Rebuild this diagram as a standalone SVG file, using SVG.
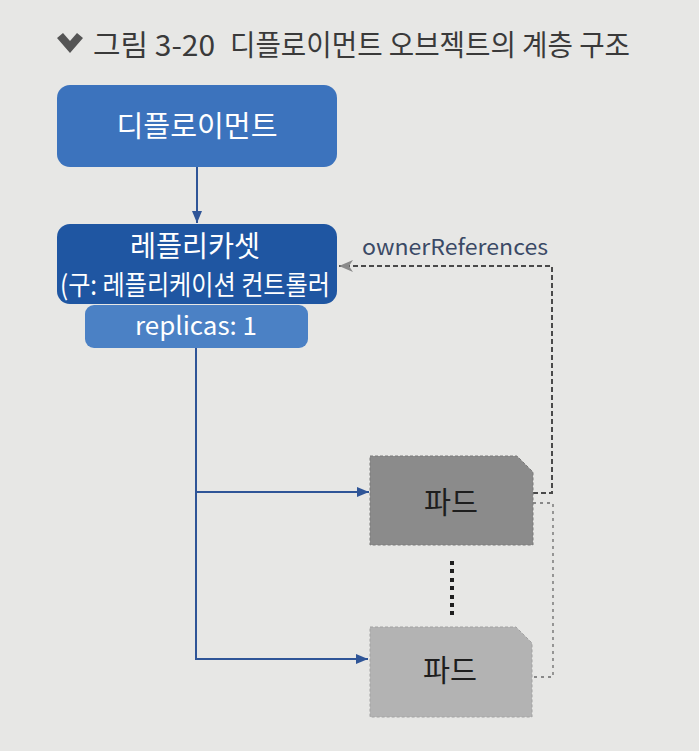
<svg xmlns="http://www.w3.org/2000/svg" width="699" height="751" viewBox="0 0 699 751">
<defs>
<style>
text{font-family:"Noto Sans CJK KR","Noto Sans",sans-serif}
.wt{fill:#ffffff;text-anchor:middle}
.pod{fill:#1e1e1e;text-anchor:middle;font-size:30px}
.conn{stroke:#2f5597;stroke-width:2;fill:none}
.ref{stroke:#4a4a4a;stroke-width:2;fill:none;stroke-dasharray:5 3}
.ref2{stroke:#6a6a6a;stroke-width:1.3;fill:none;stroke-dasharray:3 4}
</style>
<marker id="ab" viewBox="0 0 12 10" refX="12" refY="5" markerWidth="12" markerHeight="10" markerUnits="userSpaceOnUse" orient="auto">
<path d="M0,0 L12,5 L0,10 Z" fill="#2f5597"/>
</marker>
<marker id="ag" viewBox="0 0 14 12" refX="14" refY="6" markerWidth="14" markerHeight="12" markerUnits="userSpaceOnUse" orient="auto">
<path d="M0,0 L14,6 L0,12 L4,6 Z" fill="#8a8a8a"/>
</marker>
</defs>
<rect width="699" height="751" fill="#e7e7e5"/>
<g id="title">
<path d="M57,38 L63,33 L70,41 L77,33 L83,38 L70,53 Z" fill="#555555"/>
<text x="93" y="56" font-size="29" fill="#3a3a3a"><tspan x="93" textLength="122" lengthAdjust="spacingAndGlyphs">그림 3-20</tspan><tspan x="230" textLength="400" lengthAdjust="spacingAndGlyphs">디플로이먼트 오브젝트의 계층 구조</tspan></text>
</g>
<g id="connectors">
<path class="conn" d="M197,167 V223" marker-end="url(#ab)"/>
<path class="conn" d="M196,348 V659 H368" marker-end="url(#ab)"/>
<path class="conn" d="M196,492 H369" marker-end="url(#ab)"/>
<path class="ref" d="M533,493 H552 V266 H339" marker-end="url(#ag)"/>
<path class="ref2" d="M533,503 H553 V677 H533"/>
<text x="362" y="255" font-size="22" fill="#3b4a66" textLength="186" lengthAdjust="spacingAndGlyphs">ownerReferences</text>
</g>
<g id="deployment">
<rect x="57" y="85" width="280" height="82" rx="13" fill="#3c73bd"/>
<text class="wt" x="197" y="137" font-size="29" textLength="161" lengthAdjust="spacingAndGlyphs">디플로이먼트</text>
</g>
<g id="replicaset">
<rect x="57" y="224" width="280" height="80" rx="13" fill="#1f56a2"/>
<text class="wt" x="195" y="257" font-size="29" textLength="130" lengthAdjust="spacingAndGlyphs">레플리카셋</text>
<text class="wt" x="195" y="295" font-size="27" textLength="270" lengthAdjust="spacingAndGlyphs">(구: 레플리케이션 컨트롤러</text>
</g>
<g id="replicas">
<rect x="85" y="305" width="223" height="43" rx="9" fill="#4b81c5"/>
<text class="wt" x="196" y="335" font-size="25" textLength="122" lengthAdjust="spacingAndGlyphs">replicas: 1</text>
</g>
<g id="pod1">
<path d="M370,456 H517 L533,472 V545 H370 Z" fill="#8b8b8b" stroke="#7a7a7a" stroke-width="1" stroke-dasharray="3 2"/>
<text class="pod" x="451" y="513" textLength="54" lengthAdjust="spacingAndGlyphs">파드</text>
</g>
<g id="ellipsis">
<rect x="450" y="561" width="4" height="4" fill="#1e1e1e"/>
<rect x="450" y="569" width="4" height="4" fill="#1e1e1e"/>
<rect x="450" y="578" width="4" height="4" fill="#1e1e1e"/>
<rect x="450" y="586" width="4" height="4" fill="#1e1e1e"/>
<rect x="450" y="595" width="4" height="4" fill="#1e1e1e"/>
<rect x="450" y="603" width="4" height="4" fill="#1e1e1e"/>
<rect x="450" y="611" width="4" height="4" fill="#1e1e1e"/>
</g>
<g id="pod2">
<path d="M370,627 H516 L532,643 V717 H370 Z" fill="#b3b3b3" stroke="#a2a2a2" stroke-width="1" stroke-dasharray="3 2"/>
<text class="pod" x="450" y="681" textLength="54" lengthAdjust="spacingAndGlyphs">파드</text>
</g>
</svg>
